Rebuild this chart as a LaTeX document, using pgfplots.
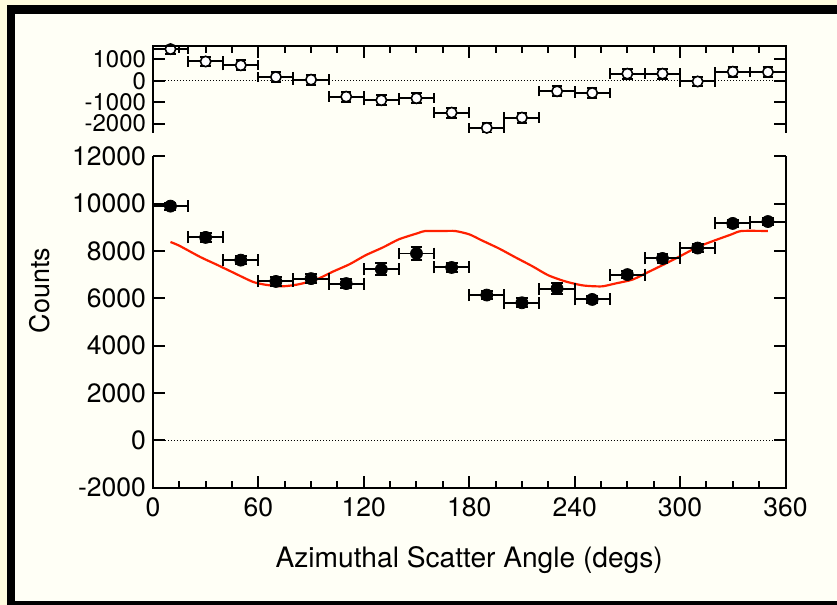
\documentclass[border=0pt]{standalone}
\usepackage{fontspec}
\setmainfont{TeX Gyre Heros}
\usepackage{pgfplots}
\usepackage{pgfplotstable}
\pgfplotsset{compat=1.18}
\definecolor{outercream}{RGB}{255,252,222}
\definecolor{innerbg}{RGB}{255,255,246}
\definecolor{fitred}{RGB}{255,32,0}
\newcommand{\mainticks}{\fontsize{13.3pt}{15pt}\selectfont}
\newcommand{\resticks}{\fontsize{12pt}{13pt}\selectfont}

% counts per 20 degree bin
\pgfplotstableread{
x y ex ey
10 9890 10 150
30 8570 10 180
50 7610 10 180
70 6710 10 180
90 6830 10 180
110 6620 10 180
130 7220 10 250
150 7890 10 280
170 7300 10 180
190 6135 10 180
210 5810 10 180
230 6410 10 250
250 5950 10 150
270 7000 10 150
290 7680 10 180
310 8120 10 180
330 9160 10 150
350 9240 10 150
}\maindata

% residuals (data - fit)
\pgfplotstableread{
x y ex ey
10 1480 10 230
30 900 10 230
50 722 10 230
70 177 10 230
90 51 10 230
110 -741 10 230
130 -908 10 230
150 -815 10 230
170 -1486 10 230
190 -2198 10 230
210 -1719 10 230
230 -489 10 230
250 -568 10 230
270 331 10 230
290 331 10 230
310 -33 10 230
330 424 10 230
350 410 10 230
}\resdata

% fitted curve
\pgfplotstableread{
x y
10 8375
15 8220
27 7740
36 7430
45 7110
57 6690
65 6560
74 6505
83 6590
93 6790
102 7110
112 7440
121 7815
131 8150
140 8490
151 8755
155 8840
165 8840
172 8840
180 8700
187 8450
197 8100
206 7740
216 7350
225 6970
235 6705
244 6550
250 6510
256 6505
263 6620
273 6790
282 7110
291 7435
301 7815
310 8165
320 8450
329 8690
335 8840
350 8840
}\fitdata

\begin{document}
\begin{tikzpicture}
\useasboundingbox (0,0) rectangle (418bp,302bp);
\fill[outercream] (-5pt,-5pt) rectangle (430pt,320pt);
\fill[black] (3.5pt,-5pt) rectangle (430pt,300.5pt);
\fill[innerbg] (7.5pt,1.65pt) rectangle (430pt,296.15pt);

\pgfplotsset{
  panel/.style={
    scale only axis, width=317.1pt,
    anchor=south west,
    xmin=0, xmax=360,
    xtick={0,60,...,360}, minor x tick num=3,
    tick align=inside,
    major tick length=6pt, minor tick length=3.5pt,
    tick style={line width=1pt, black},
    axis line style={draw=none},
    scaled y ticks=false,
    /pgf/number format/assume math mode=true,
    /pgf/number format/1000 sep={},
  }
}

% main panel
\begin{axis}[panel, name=main,
  at={(76.65pt,58.65pt)}, height=166.2pt,
  ymin=-2000, ymax=12000,
  ytick={-2000,0,...,12000},
  xtick pos=left, ytick pos=both,
  yticklabel={\mainticks\pgfmathprintnumber{\tick}},
  xticklabel={\mainticks\pgfmathprintnumber{\tick}},
  yticklabel style={anchor=east, inner sep=0pt, xshift=-3.3pt},
  xticklabel style={anchor=north, inner sep=0pt, yshift=-4.8pt},
  xlabel={Azimuthal Scatter Angle (degs)},
  xlabel style={font=\fontsize{14.1pt}{16pt}\selectfont, at={(axis description cs:0.5,0)}, anchor=base, yshift=-40.2pt, inner sep=0pt},
  ylabel={Counts},
  ylabel style={font=\fontsize{13.5pt}{16pt}\selectfont, at={(axis description cs:-0.1629,0.595)}, anchor=base, inner sep=0pt},
]
\addplot[densely dotted, line width=0.5pt, black, forget plot] coordinates {(0,0) (360,0)};
\addplot[fitred, line width=1.1pt, no marks, smooth, tension=0.4] table[x=x, y=y] {\fitdata};
\addplot[only marks, mark=*, mark size=3pt, black,
  error bars/.cd, x dir=both, x explicit, y dir=both, y explicit,
  error bar style={line width=1pt, black},
  error mark options={rotate=90, line width=1pt, mark size=3pt, black}]
  table[x=x, y=y, x error=ex, y error=ey] {\maindata};
\end{axis}
\draw[line width=1pt] (main.north west) -- (main.south west) -- (main.south east) -- (main.north east);

% residual panel
\begin{axis}[panel, name=res,
  at={(76.65pt,236.65pt)}, height=43.6pt,
  ymin=-2420, ymax=1640,
  ytick={-2000,-1000,0,1000},
  xtick pos=right, ytick pos=both,
  xticklabels={},
  yticklabel={\resticks\pgfmathprintnumber{\tick}},
  yticklabel style={anchor=east, inner sep=0pt, xshift=-3.3pt},
]
\addplot[densely dotted, line width=0.5pt, black, forget plot] coordinates {(0,0) (360,0)};
\addplot[only marks, mark=*, mark size=2.6pt, mark options={fill=white, draw=black, line width=0.8pt},
  error bars/.cd, x dir=both, x explicit, y dir=both, y explicit,
  error bar style={line width=1pt, black},
  error mark options={rotate=90, line width=1pt, mark size=2.6pt, black}]
  table[x=x, y=y, x error=ex, y error=ey] {\resdata};
\end{axis}
\draw[line width=1pt] (res.south west) -- (res.north west) -- (res.north east) -- (res.south east);
\end{tikzpicture}
\end{document}
